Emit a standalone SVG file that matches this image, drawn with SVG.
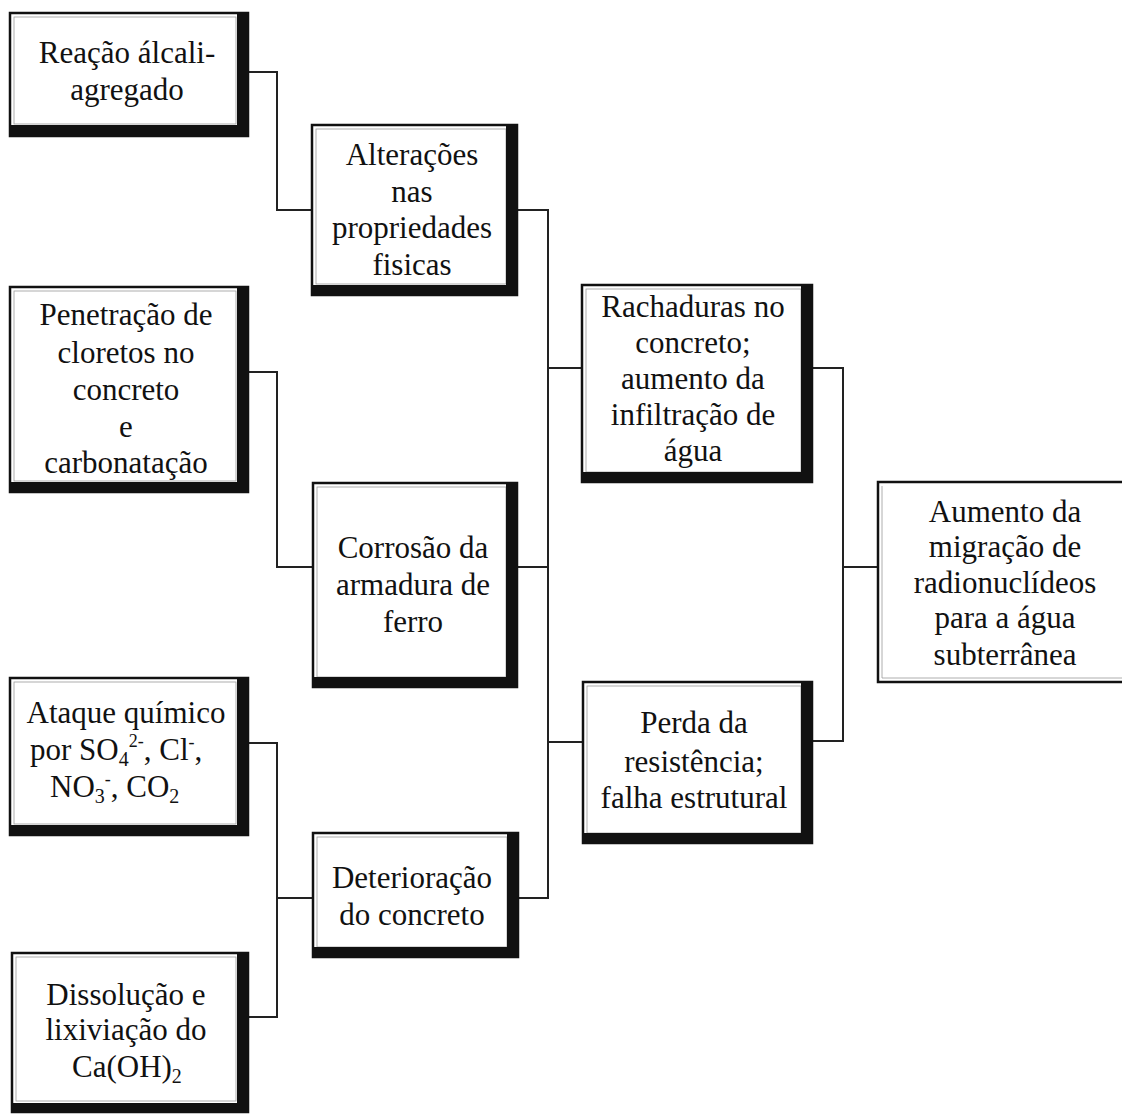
<svg xmlns="http://www.w3.org/2000/svg" width="1122" height="1114" viewBox="0 0 1122 1114">
<style>
  .box { fill: #ffffff; stroke: #111111; stroke-width: 2.5; }
  .shade { fill: #111111; }
  .inner { fill: none; stroke: #9a9a9a; stroke-width: 0.8; }
  .t { font-family: "Liberation Serif", "Times New Roman", serif; font-size: 31px; fill: #111111; text-anchor: middle; }
  .ts { font-family: "Liberation Serif", "Times New Roman", serif; font-size: 31px; fill: #111111; }
  .conn { fill: none; stroke: #222222; stroke-width: 2; }
</style>
<rect x="0" y="0" width="1122" height="1114" fill="#ffffff"/>

<g id="connectors">
  <polyline class="conn" points="248,72 277,72 277,210 312,210"/>
  <polyline class="conn" points="248,372 277,372 277,567 313,567"/>
  <polyline class="conn" points="248,743 277,743 277,1017 248,1017"/>
  <line class="conn" x1="277" y1="898" x2="313" y2="898"/>
  <polyline class="conn" points="517,210 548,210 548,898 518,898"/>
  <line class="conn" x1="517" y1="567" x2="548" y2="567"/>
  <line class="conn" x1="548" y1="368" x2="582" y2="368"/>
  <line class="conn" x1="548" y1="742" x2="583" y2="742"/>
  <polyline class="conn" points="812,368 843,368 843,741 812,741"/>
  <line class="conn" x1="843" y1="567" x2="878" y2="567"/>
</g>

<g id="n1">
  <rect class="box" x="10" y="13" width="238" height="123"/>
  <rect class="inner" x="14" y="17" width="222" height="107"/>
  <rect class="shade" x="237" y="13" width="11" height="123"/>
  <rect class="shade" x="10" y="125" width="238" height="11"/>
  <text class="t" x="127" y="63">Reação álcali-</text>
  <text class="t" x="127" y="100">agregado</text>
</g>

<g id="n2">
  <rect class="box" x="312" y="125" width="205" height="170"/>
  <rect class="inner" x="316" y="129" width="190" height="155"/>
  <rect class="shade" x="506" y="125" width="11" height="170"/>
  <rect class="shade" x="312" y="285" width="205" height="10"/>
  <text class="t" x="412" y="165">Alterações</text>
  <text class="t" x="412" y="202">nas</text>
  <text class="t" x="412" y="238">propriedades</text>
  <text class="t" x="412" y="275">fisicas</text>
</g>

<g id="n3">
  <rect class="box" x="10" y="287" width="238" height="205"/>
  <rect class="inner" x="14" y="291" width="222" height="190"/>
  <rect class="shade" x="237" y="287" width="11" height="205"/>
  <rect class="shade" x="10" y="482" width="238" height="10"/>
  <text class="t" x="126" y="325">Penetração de</text>
  <text class="t" x="126" y="363">cloretos no</text>
  <text class="t" x="126" y="400">concreto</text>
  <text class="t" x="126" y="437">e</text>
  <text class="t" x="126" y="473">carbonatação</text>
</g>

<g id="n4">
  <rect class="box" x="313" y="483" width="204" height="204"/>
  <rect class="inner" x="317" y="487" width="189" height="190"/>
  <rect class="shade" x="506" y="483" width="11" height="204"/>
  <rect class="shade" x="313" y="677" width="204" height="10"/>
  <text class="t" x="413" y="558">Corrosão da</text>
  <text class="t" x="413" y="595">armadura de</text>
  <text class="t" x="413" y="632">ferro</text>
</g>

<g id="n5">
  <rect class="box" x="10" y="678" width="238" height="157"/>
  <rect class="inner" x="14" y="682" width="222" height="142"/>
  <rect class="shade" x="237" y="678" width="11" height="157"/>
  <rect class="shade" x="10" y="825" width="238" height="10"/>
  <text class="t" x="126" y="723">Ataque químico</text>
  <text class="ts" x="30" y="760">por SO<tspan font-size="20" dy="6">4</tspan><tspan font-size="18" dy="-19">2-</tspan><tspan dy="13">, Cl</tspan><tspan font-size="18" dy="-12">-</tspan><tspan dy="12">,</tspan></text>
  <text class="ts" x="50" y="797">NO<tspan font-size="20" dy="6">3</tspan><tspan font-size="18" dy="-18">-</tspan><tspan dy="12">, CO</tspan><tspan font-size="20" dy="6">2</tspan></text>
</g>

<g id="n6">
  <rect class="box" x="12" y="953" width="236" height="159"/>
  <rect class="inner" x="16" y="957" width="220" height="144"/>
  <rect class="shade" x="237" y="953" width="11" height="159"/>
  <rect class="shade" x="12" y="1103" width="236" height="9"/>
  <text class="t" x="126" y="1005">Dissolução e</text>
  <text class="t" x="126" y="1040">lixiviação do</text>
  <text class="ts" x="72" y="1077">Ca(OH)<tspan font-size="20" dy="6">2</tspan></text>
</g>

<g id="n7">
  <rect class="box" x="313" y="833" width="205" height="124"/>
  <rect class="inner" x="317" y="837" width="190" height="110"/>
  <rect class="shade" x="507" y="833" width="11" height="124"/>
  <rect class="shade" x="313" y="947" width="205" height="10"/>
  <text class="t" x="412" y="888">Deterioração</text>
  <text class="t" x="412" y="925">do concreto</text>
</g>

<g id="n8">
  <rect class="box" x="582" y="285" width="230" height="197"/>
  <rect class="inner" x="586" y="289" width="215" height="183"/>
  <rect class="shade" x="801" y="285" width="11" height="197"/>
  <rect class="shade" x="582" y="472" width="230" height="10"/>
  <text class="t" x="693" y="317">Rachaduras no</text>
  <text class="t" x="693" y="353">concreto;</text>
  <text class="t" x="693" y="389">aumento da</text>
  <text class="t" x="693" y="425">infiltração de</text>
  <text class="t" x="693" y="461">água</text>
</g>

<g id="n9">
  <rect class="box" x="583" y="682" width="229" height="161"/>
  <rect class="inner" x="587" y="686" width="214" height="147"/>
  <rect class="shade" x="801" y="682" width="11" height="161"/>
  <rect class="shade" x="583" y="833" width="229" height="10"/>
  <text class="t" x="694" y="733">Perda da</text>
  <text class="t" x="694" y="772">resistência;</text>
  <text class="t" x="694" y="808">falha estrutural</text>
</g>

<g id="n10">
  <rect class="box" x="878" y="482" width="260" height="200"/>
  <line class="inner" x1="882" y1="486" x2="882" y2="678"/>
  <line class="inner" x1="882" y1="678" x2="1122" y2="678"/>
  <text class="t" x="1005" y="522">Aumento da</text>
  <text class="t" x="1005" y="557">migração de</text>
  <text class="t" x="1005" y="593">radionuclídeos</text>
  <text class="t" x="1005" y="628">para a água</text>
  <text class="t" x="1005" y="665">subterrânea</text>
</g>
</svg>
